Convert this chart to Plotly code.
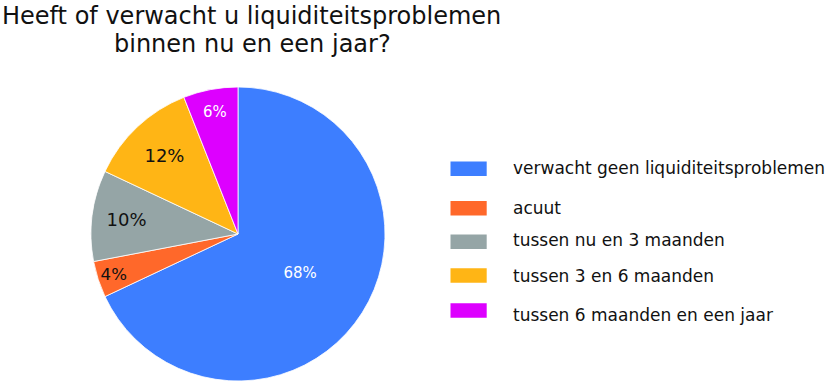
import plotly.graph_objects as go

labels = ["verwacht geen liquiditeitsproblemen", "acuut", "tussen nu en 3 maanden",
          "tussen 3 en 6 maanden", "tussen 6 maanden en een jaar"]
values = [68, 4, 10, 12, 6]
colors = ["#3D7EFF", "#FF682A", "#95A5A6", "#FFB515", "#DD00FF"]
text_colors = ["#ffffff", "#111111", "#111111", "#111111", "#ffffff"]
text_sizes = [15, 18, 18, 18, 15]
title_lines = ["Heeft of verwacht u liquiditeitsproblemen", "binnen nu en een jaar?"]

W, H = 828, 382
FONT = "DejaVu Sans, Verdana, sans-serif"

fig = go.Figure()
fig.add_trace(go.Pie(
    labels=labels, values=values, sort=False, direction="clockwise", rotation=0,
    marker=dict(colors=colors, line=dict(color="white", width=0.8)),
    texttemplate="%{percent:.0%}", textinfo="percent", textposition="inside",
    insidetextorientation="horizontal",
    insidetextfont=dict(color=text_colors, size=text_sizes, family=FONT),
    domain=dict(x=[91 / W, 385 / W], y=[1 / H, 295 / H]),
    showlegend=False, hoverinfo="label+percent",
))

# custom legend
sw_y = [168.7, 208.3, 241.7, 275.5, 310.5]
tx_y = [168, 208, 240, 275.5, 315]
shapes = []
annotations = []
for i, lab in enumerate(labels):
    shapes.append(dict(type="rect", xref="paper", yref="paper",
                       x0=450.5 / W, x1=486.7 / W,
                       y0=1 - (sw_y[i] - 7.2) / H, y1=1 - (sw_y[i] + 7.2) / H,
                       fillcolor=colors[i], line=dict(width=0)))
    annotations.append(dict(text=lab, xref="paper", yref="paper", x=511 / W,
                            y=1 - tx_y[i] / H, xanchor="left", yanchor="middle",
                            showarrow=False, font=dict(size=17, color="#111111", family=FONT)))

title_y = [16.3, 43.7]
title_x = [251.5, 252.5]
for i, line in enumerate(title_lines):
    annotations.append(dict(text=line, xref="paper", yref="paper", x=title_x[i] / W,
                            y=1 - title_y[i] / H, xanchor="center", yanchor="middle",
                            showarrow=False,
                            font=dict(size=24, color="#111111", family=FONT)))

fig.update_layout(width=W, height=H, margin=dict(l=0, r=0, t=0, b=0),
                  paper_bgcolor="white", plot_bgcolor="white",
                  shapes=shapes, annotations=annotations,
                  font=dict(family=FONT))
fig.write_html("out.html", config={"displayModeBar": False},
               post_script="document.body.style.margin='0';")
